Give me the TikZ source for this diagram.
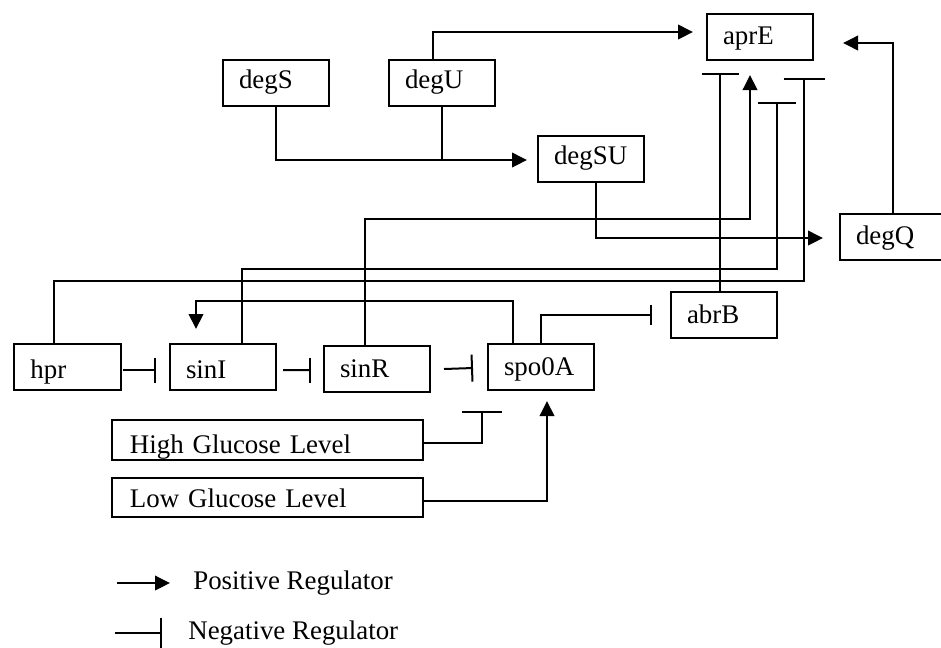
\documentclass[tikz,border=0pt]{standalone}
\usepackage{fontspec}
\setmainfont{Liberation Serif}
\usetikzlibrary{arrows.meta}

\tikzset{
  gene/.style={draw, line width=0.4mm, text width=14.8mm, minimum height=9.2mm,
    inner xsep=3.2mm, inner ysep=0pt, align=left, text height=11pt, text depth=1.9pt},
  raised/.style={text height=10pt, text depth=3.2pt},
  sunk/.style={text height=14pt, text depth=1pt},
  level/.style={draw, line width=0.4mm, text width=55mm, minimum height=8mm,
    inner xsep=3.6mm, inner ysep=0pt, align=left, text height=15.5pt, text depth=0.7pt},
  posreg/.style={line width=0.4mm, -{Triangle[length=3mm,width=2.9mm]}},
  negreg/.style={line width=0.4mm, -{Bar[width=#1]}},
  legend/.style={inner sep=0pt, anchor=west},
}

\begin{document}
\begin{tikzpicture}[x=0.2mm, y=-0.2mm, every node/.style={font=\fontsize{15.3}{18}\selectfont}]
        \useasboundingbox (0,0) rectangle (941,647);
        \node[gene, raised] (degS) at (276,83) {degS};
        \node[gene, raised] (degU) at (442,83) {degU};
        \node[gene] (aprE) at (760,36.5) {aprE};
        \node[gene, raised] (degSU) at (591,159) {degSU};
        \node[gene] (degQ) at (893,236.5) {degQ};
        \node[gene] (abrB) at (724,315) {abrB};
        \node[gene, sunk] (hpr) at (67.5,367) {hpr};
        \node[gene, sunk] (sinI) at (223,367) {sinI};
        \node[gene] (sinR) at (377,369) {sinR};
        \node[gene] (spo0A) at (541,367) {spo0A};
        \node[level] (high) at (267.5,440) {High Glucose Level};
        \node[level, minimum height=7.8mm, text height=12pt, text depth=1.2pt] (low) at (267.5,497.5) {Low Glucose Level};
        \coordinate (inU) at (693,32);
        \coordinate (inSU) at (527,160);
        \coordinate (inQ) at (823,238);
        \coordinate (inQE) at (843,43);
        \coordinate (tB) at (720,73);
        \coordinate (inR) at (750,75);
        \coordinate (tI) at (777,102);
        \coordinate (tH) at (804,78);
        \draw[posreg] ([xshift=-1.8mm]degU.north) |- (inU);
        \draw[posreg] (degS.south) |- (inSU);
        \draw[line width=0.4mm] (degU.south) -- (degU.south |- inSU);
        \draw[posreg] ([xshift=1mm]degSU.south) |- (inQ);
        \draw[posreg] (degQ.north) |- (inQE);
        \draw[negreg=7.4mm] (abrB.north -| tB) -- (tB);
        \draw[posreg] ([xshift=-2.4mm]sinR.north) -- ++(0,-126) -| (inR);
        \draw[negreg=7.6mm] ([xshift=3.8mm]sinI.north) -- ++(0,-74) -| (tI);
        \draw[negreg=8.2mm] ([xshift=-2.7mm]hpr.north) -- ++(0,-62) -| (tH);
        \draw[posreg] ([xshift=-5.6mm]spo0A.north) -- ++(0,-42) -| ([xshift=-5.4mm,yshift=2.8mm]sinI.north);
        \draw[negreg=4mm] (spo0A.north) |- ([xshift=-3.6mm]abrB.west);
        \draw[negreg=5mm] ([xshift=0.2mm,yshift=-0.6mm]hpr.east) -- ([xshift=-2.6mm,yshift=-0.6mm]sinI.west);
        \draw[negreg=5mm] ([xshift=1.2mm,yshift=-0.6mm]sinI.east) -- ([xshift=-2.4mm,yshift=-0.2mm]sinR.west);
        \draw[negreg=5.4mm] ([xshift=2.6mm]sinR.east) -- ([xshift=-2.8mm,yshift=-0.2mm]spo0A.west);
        \draw[negreg=8mm] ([yshift=-0.6mm]high.east) -| ([xshift=-11.8mm,yshift=-4mm]spo0A.south);
        \draw[posreg] ([yshift=-0.7mm]low.east) -| ([xshift=1.2mm,yshift=-2mm]spo0A.south);
        \node[legend] (posL) at (193,583) {Positive Regulator};
        \node[legend] (negL) at (188,633) {Negative Regulator};
        \draw[posreg] ([xshift=-15.2mm]posL.west) -- ([xshift=-4.6mm]posL.west);
        \draw[negreg=6mm] ([xshift=-14.6mm]negL.west) -- ([xshift=-5.2mm]negL.west);
    \end{tikzpicture}
\end{document}
